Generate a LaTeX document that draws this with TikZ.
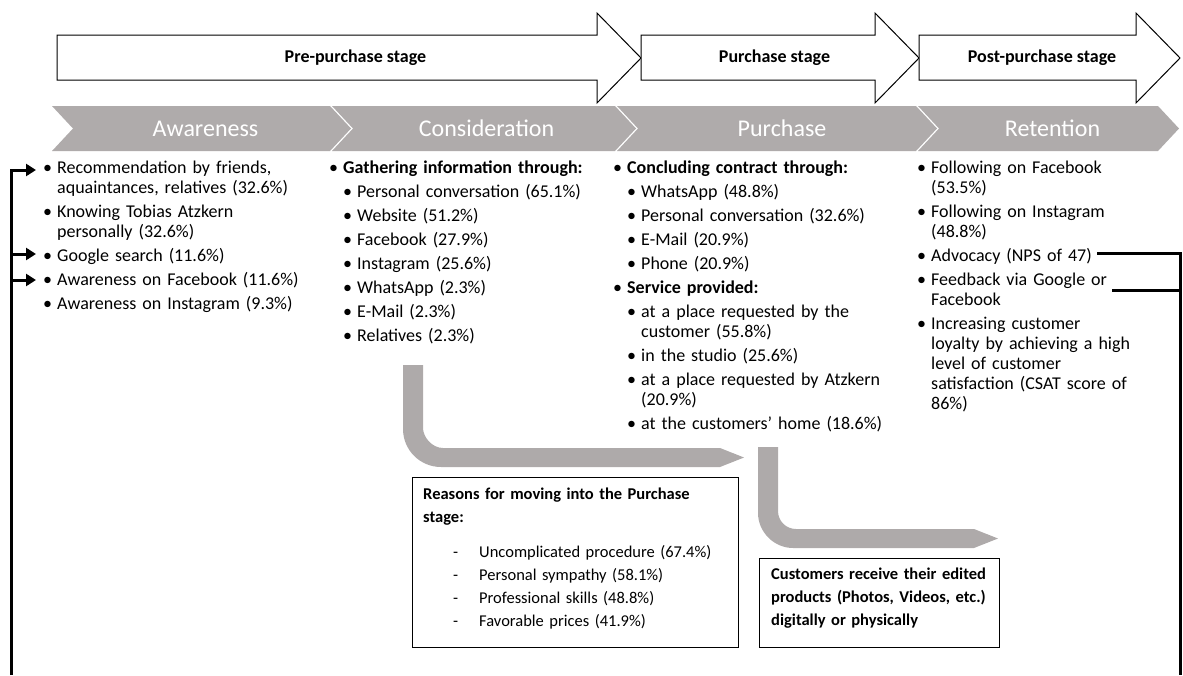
\documentclass[tikz,border=0pt]{standalone}
\usepackage{fontspec}
\setmainfont{Carlito}
\usetikzlibrary{arrows.meta}

\definecolor{bandgrey}{HTML}{AFABAB}
\definecolor{flowgrey}{HTML}{AEAAAA}

% list helpers: first-level bullet, second-level bullet, dash item
\newcommand\bul[1]{\par\hangindent=14pt\hangafter=1\noindent\makebox[14pt][l]{\textbullet}#1}
\newcommand\subbul[1]{\par\hangindent=28pt\hangafter=1\noindent\hspace*{14pt}\makebox[14pt][l]{\textbullet}#1}
\newcommand\dashitem[1]{\par\noindent\hspace*{30pt}\makebox[26pt][l]{-}#1}

\tikzset{
  stagearrow/.style={draw=black, line width=1pt, fill=white, line join=miter},
  stagelabel/.style={font=\bfseries\fontsize{18}{20}\selectfont, inner sep=0pt},
  chevron/.style={fill=bandgrey, draw=none},
  chevlabel/.style={text=white, font=\fontsize{24}{28}\selectfont, inner sep=0pt},
  column/.style={anchor=north west, inner sep=0pt, text width=300pt,
    font=\fontsize{18}{20}\selectfont},
  flow/.style={fill=flowgrey, draw=none},
  infobox/.style={draw=black, line width=1.2pt, anchor=north west, inner sep=0pt},
  boxtext/.style={anchor=north west, inner sep=0pt, text width=300pt,
    font=\fontsize{16.5}{23}\selectfont},
  conn/.style={line width=3pt, draw=black},
  tipped/.style={-{Triangle[length=10pt,width=12pt]}}
}

\begin{document}
\begin{tikzpicture}[x=1pt, y=-1pt]
\useasboundingbox (0,0) rectangle (1183,675);

% stage arrows along the top
\draw[stagearrow] (57,35) -- (597,35) -- (597,13) -- (641,58) -- (597,103) -- (597,80) -- (57,80) -- cycle;
\draw[stagearrow] (641,35) -- (875,35) -- (875,13) -- (919,58) -- (875,103) -- (875,80) -- (641,80) -- cycle;
\draw[stagearrow] (919,35) -- (1136,35) -- (1136,13) -- (1180,58) -- (1136,103) -- (1136,80) -- (919,80) -- cycle;
\node[stagelabel] (prestage)  at (355.5,58) {Pre-purchase stage};
\node[stagelabel] (purstage)  at (774.5,58) {Purchase stage};
\node[stagelabel] (poststage) at (1042,58) {Post-purchase stage};

% grey chevron band
\fill[chevron] (52,106) -- (330,106) -- (351,128.5) -- (330,151) -- (52,151) -- (73,128.5) -- cycle;
\fill[chevron] (332,106) -- (615,106) -- (636,128.5) -- (615,151) -- (332,151) -- (353,128.5) -- cycle;
\fill[chevron] (617,106) -- (916,106) -- (937,128.5) -- (916,151) -- (617,151) -- (638,128.5) -- cycle;
\fill[chevron] (918,106) -- (1158,106) -- (1179,128.5) -- (1158,151) -- (918,151) -- (939,128.5) -- cycle;
\node[chevlabel] (awareness)     at (205.5,128.5) {Awareness};
\node[chevlabel] (consideration) at (486.5,128.5) {Consideration};
\node[chevlabel] (purchase)      at (782,128.5)   {Purchase};
\node[chevlabel] (retention)     at (1052.5,128.5) {Retention};

% column texts
\node[column] (colaware) at (43,149.5) {\setlength\parskip{4pt}%
  \bul{Recommendation by friends,\newline aquaintances, relatives (32.6\%)}
  \bul{Knowing Tobias Atzkern\newline personally (32.6\%)}
  \bul{Google search (11.6\%)}
  \bul{Awareness on Facebook (11.6\%)}
  \bul{Awareness on Instagram (9.3\%)}\par};

\node[column] (colconsid) at (329,149.5) {\setlength\parskip{4pt}%
  \bul{\textbf{Gathering information through:}}
  \subbul{Personal conversation (65.1\%)}
  \subbul{Website (51.2\%)}
  \subbul{Facebook (27.9\%)}
  \subbul{Instagram (25.6\%)}
  \subbul{WhatsApp (2.3\%)}
  \subbul{E-Mail (2.3\%)}
  \subbul{Relatives (2.3\%)}\par};

\node[column] (colpurch) at (613,149.5) {\setlength\parskip{4pt}%
  \bul{\textbf{Concluding contract through:}}
  \subbul{WhatsApp (48.8\%)}
  \subbul{Personal conversation (32.6\%)}
  \subbul{E-Mail (20.9\%)}
  \subbul{Phone (20.9\%)}
  \bul{\textbf{Service provided:}}
  \subbul{at a place requested by the\newline customer (55.8\%)}
  \subbul{in the studio (25.6\%)}
  \subbul{at a place requested by Atzkern\newline (20.9\%)}
  \subbul{at the customers' home (18.6\%)}\par};

\node[column] (colret) at (917,149.5) {\setlength\parskip{4pt}%
  \bul{Following on Facebook\newline (53.5\%)}
  \bul{Following on Instagram\newline (48.8\%)}
  \bul{Advocacy (NPS of 47)}
  \bul{Feedback via Google or\newline Facebook}
  \bul{Increasing customer\newline loyalty by achieving a high\newline level of customer\newline satisfaction (CSAT score of\newline 86\%)}\par};

% grey flow arrows
\fill[flow] (403,365) -- (403,429) .. controls (403,450) and (420,467) .. (441,467)
  -- (720,467) -- (744,457.5) -- (720,448) -- (443,448)
  .. controls (432,448) and (423,437) .. (423,428) -- (423,365) -- cycle;
\fill[flow] (758,447) -- (758,513) .. controls (758,532) and (774,548) .. (793,548)
  -- (974,548) -- (998,538.5) -- (974,529) -- (796,529)
  .. controls (786,529) and (778,521) .. (778,511) -- (778,447) -- cycle;

% information boxes
\node[infobox, minimum width=326pt, minimum height=170pt] (reasons) at (412,477) {};
\node[boxtext] (reasonstext) at (423,488) {\setlength\parskip{0pt}%
  \noindent\textbf{Reasons for moving into the Purchase\newline stage:}\par
  \vspace{12pt}
  \dashitem{Uncomplicated procedure (67.4\%)}
  \dashitem{Personal sympathy (58.1\%)}
  \dashitem{Professional skills (48.8\%)}
  \dashitem{Favorable prices (41.9\%)}\par};

\node[infobox, minimum width=240pt, minimum height=89pt] (delivery) at (759,558) {};
\node[boxtext] (deliverytext) at (771,568) {\setlength\parskip{0pt}%
  \noindent\textbf{Customers receive their edited\newline products (Photos, Videos, etc.)\newline digitally or physically}\par};

% feedback connectors
\coordinate (lbot)     at (11.5,675);
\coordinate (inrec)    at (36,170);
\coordinate (ingoogle) at (36,254);
\coordinate (infb)     at (36,280);
\draw[conn, tipped] (lbot) |- (inrec);
\draw[conn, tipped] (lbot |- ingoogle) -- (ingoogle);
\draw[conn, tipped] (lbot |- infb) -- (infb);

\coordinate (outadv) at (1097,253);
\coordinate (outfb)  at (1112,290);
\coordinate (rbot)   at (1180,675);
\draw[conn] (outadv) -| (rbot);
\draw[conn] (outfb) -- (outfb -| rbot);
\end{tikzpicture}
\end{document}
